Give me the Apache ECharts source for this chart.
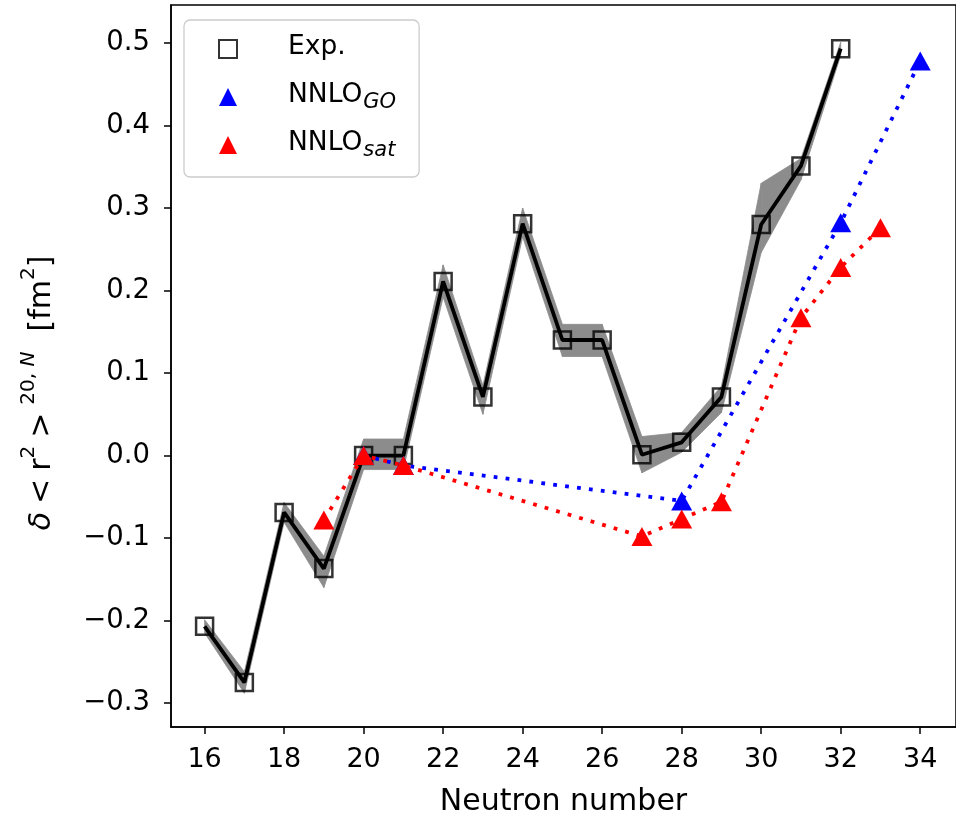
<!DOCTYPE html>
<html>
<head>
<meta charset="utf-8">
<script src="https://cdn.jsdelivr.net/npm/echarts@6/dist/echarts.min.js"></script>
<style>html,body{margin:0;padding:0;background:#fff}#chart{width:956px;height:822px}</style>
</head>
<body>
<div id="chart"></div>
<script>
// ---- data ----
const expN      = [16, 17, 18, 19, 20, 21, 22, 23, 24, 25, 26, 27, 28, 29, 30, 31, 32];
const expValues = [-0.207, -0.275, -0.069, -0.137, 0.0, 0.0, 0.211, 0.071, 0.281, 0.140, 0.140, 0.001, 0.016, 0.071, 0.280, 0.351, 0.493];
const expUpper  = [-0.199, -0.262, -0.057, -0.122, 0.020, 0.020, 0.231, 0.085, 0.300, 0.159, 0.159, 0.023, 0.028, 0.084, 0.330, 0.360, 0.501];
const expLower  = [-0.215, -0.288, -0.081, -0.160, -0.017, -0.017, 0.192, 0.050, 0.265, 0.120, 0.120, -0.021, 0.004, 0.052, 0.246, 0.334, 0.485];

const goN      = [20, 21, 28, 32, 34];
const goValues = [0.0, -0.012, -0.055, 0.282, 0.478];

const satN      = [19, 20, 21, 27, 28, 29, 31, 32, 33];
const satValues = [-0.078, 0.0, -0.012, -0.098, -0.077, -0.056, 0.167, 0.228, 0.276];

const xTicks = [16, 18, 20, 22, 24, 26, 28, 30, 32, 34];
const yTicks = [-0.3, -0.2, -0.1, 0.0, 0.1, 0.2, 0.3, 0.4, 0.5];

const seriesNames = ['Exp.', 'NNLO_GO', 'NNLO_sat'];

// ---- build ----
const pairs = (xs, ys) => xs.map((x, i) => [x, ys[i]]);
const bandSegments = expN.slice(0, -1).map((x, i) =>
  [x, expLower[i], expUpper[i], expN[i + 1], expLower[i + 1], expUpper[i + 1]]);
const FONT = 'DejaVu Sans';

const chart = echarts.init(document.getElementById('chart'), null, {renderer: 'canvas'});
chart.setOption({
  animation: false,
  backgroundColor: '#fff',
  textStyle: {fontFamily: FONT},
  grid: {left: 171, top: 5, right: -5, bottom: 94, show: true, borderColor: '#000', borderWidth: 1.5, backgroundColor: 'transparent'},
  legend: {
    orient: 'vertical', left: 184, top: 20,
    padding: [14, 23, 16, 34],
    itemGap: 17, itemWidth: 18, itemHeight: 18,
    backgroundColor: 'rgba(255,255,255,0.85)',
    borderColor: '#cccccc', borderWidth: 1.3, borderRadius: 6,
    data: seriesNames,
    formatter: function (name) {
      if (name === 'Exp.') return '{gap|}{m|Exp.}{s| }';
      const parts = name.split('_');
      return '{gap|}{m|' + parts[0] + '}{s|' + parts[1] + '}';
    },
    textStyle: {
      fontFamily: FONT, color: '#000',
      rich: {
        gap: {width: 46},
        m: {fontSize: 26.5, fontFamily: FONT, color: '#000', lineHeight: 30, verticalAlign: 'top'},
        s: {fontSize: 21, fontFamily: FONT, fontStyle: 'italic', color: '#000', lineHeight: 21, padding: [10, 0, 0, 1], verticalAlign: 'top'}
      }
    }
  },
  xAxis: {
    type: 'value', min: 15.155, max: 34.9,
    name: 'Neutron number', nameLocation: 'middle', nameGap: 60,
    nameTextStyle: {fontSize: 30, color: '#000', fontFamily: FONT},
    axisLine: {show: true, onZero: false, lineStyle: {color: '#000', width: 1.5}},
    axisTick: {show: true, length: 7, lineStyle: {color: '#000', width: 1.5}, customValues: xTicks},
    axisLabel: {fontSize: 27, color: '#000', margin: 19, fontFamily: FONT, customValues: xTicks,
                formatter: v => String(v)},
    splitLine: {show: false}
  },
  yAxis: {
    type: 'value', min: -0.329, max: 0.546,
    name: '{d|δ}{r|<}{n|r}{p|2}{r|>}{p|20, }{q|N}{g|}{n|[fm}{p|2}{n|]}{e|}',
    nameLocation: 'middle', nameGap: 114, nameRotate: 90,
    nameTextStyle: {
      color: '#000', fontFamily: FONT,
      rich: {
        d: {fontSize: 30, fontFamily: FONT, fontStyle: 'italic', color: '#000', lineHeight: 38, verticalAlign: 'bottom'},
        r: {fontSize: 30, fontFamily: FONT, color: '#000', lineHeight: 38, verticalAlign: 'bottom', padding: [0, 8, 0, 8]},
        n: {fontSize: 30, fontFamily: FONT, color: '#000', lineHeight: 38, verticalAlign: 'bottom'},
        p: {fontSize: 20, fontFamily: FONT, color: '#000', lineHeight: 20, verticalAlign: 'top'},
        q: {fontSize: 20, fontFamily: FONT, fontStyle: 'italic', color: '#000', lineHeight: 20, verticalAlign: 'top'},
        g: {width: 20, lineHeight: 38},
        e: {width: 54, lineHeight: 38}
      }
    },
    axisLine: {show: true, onZero: false, lineStyle: {color: '#000', width: 1.5}},
    axisTick: {show: true, length: 7, lineStyle: {color: '#000', width: 1.5}, customValues: yTicks},
    axisLabel: {fontSize: 27.5, color: '#000', margin: 21, fontFamily: FONT, customValues: yTicks,
                formatter: v => v.toFixed(1).replace('-', '\u2212')},
    splitLine: {show: false}
  },
  series: [
    {
      name: 'band', type: 'custom', silent: true, z: 1,
      data: bandSegments,
      encode: {x: [0, 3], y: [1, 2, 4, 5]},
      renderItem: function (params, api) {
        const p1 = api.coord([api.value(0), api.value(2)]);
        const p2 = api.coord([api.value(3), api.value(5)]);
        const p3 = api.coord([api.value(3), api.value(4)]);
        const p4 = api.coord([api.value(0), api.value(1)]);
        return {type: 'polygon', shape: {points: [p1, p2, p3, p4]},
                style: {fill: '#8c8c8c', stroke: '#8c8c8c', lineWidth: 0.8}};
      }
    },
    {
      name: 'expLine', type: 'line', data: pairs(expN, expValues), showSymbol: false, symbol: 'none',
      lineStyle: {color: '#000', width: 3.8}, z: 2
    },
    {
      name: 'Exp.', type: 'scatter', data: pairs(expN, expValues), symbol: 'rect', symbolSize: 17,
      itemStyle: {color: 'rgba(0,0,0,0)', borderColor: '#000', borderWidth: 2.5}, z: 3
    },
    {
      name: 'goLine', type: 'line', data: pairs(goN, goValues), showSymbol: false, symbol: 'none',
      lineStyle: {color: '#0000ff', width: 3.8, type: [3.8, 8.2]}, z: 4
    },
    {
      name: 'NNLO_GO', type: 'scatter', data: pairs(goN, goValues), symbol: 'triangle', symbolSize: [21, 19],
      itemStyle: {color: '#0000ff', opacity: 1}, z: 5
    },
    {
      name: 'satLine', type: 'line', data: pairs(satN, satValues), showSymbol: false, symbol: 'none',
      lineStyle: {color: '#ff0000', width: 3.8, type: [3.8, 8.2]}, z: 6
    },
    {
      name: 'NNLO_sat', type: 'scatter', data: pairs(satN, satValues), symbol: 'triangle', symbolSize: [21, 19],
      itemStyle: {color: '#ff0000', opacity: 1}, z: 7
    }
  ]
});
</script>
</body>
</html>
